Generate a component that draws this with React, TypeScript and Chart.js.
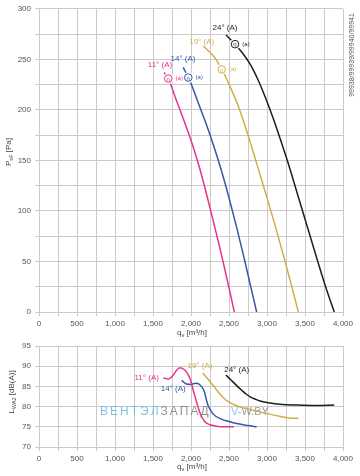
import React, { useEffect, useRef } from 'react';
import { Chart, registerables } from 'chart.js';
Chart.register(...registerables);

// ---------- data ----------
const seriesNames = ['11° (A)', '14° (A)', '19° (A)', '24° (A)'];
const seriesColors = ['#e5338c', '#3557a8', '#d2ad4b', '#1e1e1e'];

// pressure curves (q_v m³/h, p_sF Pa)
const q11p = [1645, 1701, 1800, 1900, 2000, 2100, 2200, 2300, 2400, 2500, 2570];
const p11 = [237, 231, 211, 191, 170, 146, 118, 88, 57, 24, 0];
const q14p = [1898, 1964, 2000, 2100, 2200, 2300, 2400, 2500, 2600, 2700, 2780, 2864];
const p14 = [242, 232, 226, 206, 186, 164, 140, 113, 84, 53, 27, 0];
const q19p = [2162, 2220, 2320, 2420, 2520, 2620, 2720, 2820, 2920, 3020, 3120, 3220, 3320, 3412];
const p19 = [263, 259, 251, 238, 222, 204, 182, 158, 133, 108, 82, 55, 27, 0];
const q24p = [2460, 2579, 2680, 2780, 2880, 2980, 3080, 3180, 3280, 3380, 3480, 3580, 3680, 3780, 3885];
const p24 = [274, 265, 256, 245, 230, 212, 192, 170, 147, 122, 97, 72, 47, 23, 0];

// operating points (eta markers)
const etaQ = [1701, 1964, 2404, 2579];
const etaP = [231, 232, 240, 265];

// sound curves (q_v m³/h, L dB(A))
const q11s = [1636, 1701, 1767, 1810, 1855, 1921, 1960, 1990, 2030, 2075, 2118, 2180, 2250, 2350, 2450, 2566];
const l11 = [87.1, 86.8, 87.8, 89.0, 89.6, 89.0, 88.0, 86.8, 84.0, 81.0, 78.5, 76.3, 75.5, 75.1, 75.0, 75.0];
const q14s = [1877, 1940, 2000, 2060, 2110, 2170, 2220, 2290, 2400, 2500, 2600, 2750, 2864];
const l14 = [86.5, 85.6, 85.5, 85.8, 85.5, 84.0, 80.5, 78.2, 76.9, 76.3, 75.8, 75.3, 75.0];
const q19s = [2154, 2220, 2293, 2360, 2425, 2500, 2601, 2750, 2951, 3171, 3300, 3412];
const l19 = [88.3, 86.9, 85.2, 83.6, 82.2, 81.1, 80.2, 79.4, 78.5, 77.6, 77.2, 77.1];
const q24s = [2460, 2530, 2601, 2670, 2733, 2790, 2850, 2908, 3040, 3171, 3400, 3650, 3885];
const l24 = [87.8, 86.5, 85.2, 84.0, 83.0, 82.3, 81.8, 81.4, 80.9, 80.6, 80.4, 80.3, 80.4];

// label anchors
const topLabelQ = [1592, 1895, 2141, 2447];
const topLabelP = [244.8, 250.7, 267.8, 281.3];
const botLabelQ = [1417, 1767, 2118, 2601];
const botLabelL = [87.1, 84.5, 90.1, 89.2];

// ticks
const xTickValues = [0, 500, 1000, 1500, 2000, 2500, 3000, 3500, 4000];
const xTickLabels = ['0', '500', '1,000', '1,500', '2,000', '2,500', '3,000', '3,500', '4,000'];
const pTickValues = [0, 50, 100, 150, 200, 250, 300];
const pTickLabels = ['0', '50', '100', '150', '200', '250', '300'];
const lTickValues = [70, 75, 80, 85, 90, 95];
const lTickLabels = ['70', '75', '80', '85', '90', '95'];

const FONT = "'Liberation Sans', Arial, sans-serif";
const GRID = '#cacaca';
const TICK = '#555555';

type Part = { t: string; sub?: boolean };

function drawRich(ctx: CanvasRenderingContext2D, x: number, y: number, parts: Part[], size: number, color: string, rotate: boolean) {
  ctx.save();
  ctx.translate(x, y);
  if (rotate) ctx.rotate(-Math.PI / 2);
  ctx.fillStyle = color;
  ctx.textBaseline = 'middle';
  ctx.textAlign = 'left';
  let total = 0;
  for (const p of parts) {
    ctx.font = `${p.sub ? size * 0.7 : size}px ${FONT}`;
    total += ctx.measureText(p.t).width;
  }
  let cx = -total / 2;
  for (const p of parts) {
    ctx.font = `${p.sub ? size * 0.7 : size}px ${FONT}`;
    ctx.fillText(p.t, cx, p.sub ? size * 0.3 : 0);
    cx += ctx.measureText(p.t).width;
  }
  ctx.restore();
}

function xCallback(v: any) {
  const i = xTickValues.indexOf(Number(v));
  return i >= 0 ? xTickLabels[i] : '';
}

function pts(q: number[], v: number[]) {
  return q.map((x, i) => ({ x, y: v[i] }));
}

function xScale(height: number) {
  return {
    type: 'linear',
    min: 0,
    max: 4000,
    ticks: { stepSize: 250, autoSkip: false, maxRotation: 0, callback: xCallback, font: { size: 8, family: FONT }, color: TICK, padding: 3 },
    grid: { color: GRID, tickLength: 4, lineWidth: 1 },
    border: { color: GRID },
    afterFit: (s: any) => { s.height = height; },
  };
}

export default function App() {
  const topRef = useRef<HTMLCanvasElement>(null);
  const botRef = useRef<HTMLCanvasElement>(null);

  useEffect(() => {
    const topDatasets = [
      pts(q11p, p11), pts(q14p, p14), pts(q19p, p19), pts(q24p, p24),
    ].map((d, i) => ({
      data: d, borderColor: seriesColors[i], borderWidth: 1.5, pointRadius: 0, fill: false, cubicInterpolationMode: 'monotone' as const,
    }));

    const topPlugin = {
      id: 'topAnno',
      afterDatasetsDraw(chart: any) {
        const { ctx, scales } = chart;
        const xs = scales.x, ys = scales.y;
        ctx.save();
        for (let i = 0; i < seriesNames.length; i++) {
          ctx.font = `8px ${FONT}`;
          ctx.fillStyle = seriesColors[i];
          ctx.textAlign = 'center';
          ctx.textBaseline = 'middle';
          ctx.fillText(seriesNames[i], xs.getPixelForValue(topLabelQ[i]), ys.getPixelForValue(topLabelP[i]));
          const mx = xs.getPixelForValue(etaQ[i]);
          const my = ys.getPixelForValue(etaP[i]);
          ctx.beginPath();
          ctx.arc(mx, my, 5.5, 0, Math.PI * 2);
          ctx.fillStyle = '#ffffff';
          ctx.fill();
          ctx.beginPath();
          ctx.arc(mx, my, 3.8, 0, Math.PI * 2);
          ctx.strokeStyle = seriesColors[i];
          ctx.lineWidth = 1;
          ctx.stroke();
          ctx.fillStyle = seriesColors[i];
          ctx.font = `6px ${FONT}`;
          ctx.fillText('η', mx, my + 0.5);
          ctx.fillText('(a)', mx + 11, my);
        }
        ctx.restore();
        drawRich(ctx, 9, 152, [{ t: 'P' }, { t: 'sF', sub: true }, { t: ' [Pa]' }], 8, '#444', true);
        drawRich(ctx, 192, 333, [{ t: 'q' }, { t: 'v', sub: true }, { t: ' [m³/h]' }], 8, '#444', false);
        drawRich(ctx, 352, 55, [{ t: '99938/99939/99940/99941' }], 7, '#555', true);
      },
    };

    const topChart = new Chart(topRef.current as HTMLCanvasElement, {
      type: 'line',
      data: { datasets: topDatasets as any },
      options: {
        responsive: false,
        animation: false,
        layout: { padding: { left: 0, right: 17, top: 8, bottom: 0 } },
        plugins: { legend: { display: false }, tooltip: { enabled: false } },
        scales: {
          x: xScale(28) as any,
          y: {
            type: 'linear', min: 0, max: 300,
            ticks: { stepSize: 25, autoSkip: false, callback: (v: any) => { const i = pTickValues.indexOf(Number(v)); return i >= 0 ? pTickLabels[i] : ''; }, font: { size: 8, family: FONT }, color: TICK, padding: 4 },
            grid: { color: GRID, tickLength: 4 },
            border: { color: GRID },
            afterFit: (s: any) => { s.width = 39; },
          } as any,
        },
      },
      plugins: [topPlugin],
    });

    const botDatasets = [
      pts(q11s, l11), pts(q14s, l14), pts(q19s, l19), pts(q24s, l24),
    ].map((d, i) => ({
      data: d, borderColor: seriesColors[i], borderWidth: 1.5, pointRadius: 0, fill: false, cubicInterpolationMode: 'monotone' as const,
    }));

    const botPlugin = {
      id: 'botAnno',
      beforeDatasetsDraw(chart: any) {
        const { ctx } = chart;
        ctx.save();
        ctx.globalAlpha = 0.85;
        ctx.font = `12px ${FONT}`;
        ctx.textBaseline = 'middle';
        ctx.textAlign = 'left';
        const word = 'ВЕНТЭЛЗАПАД';
        let x = 100;
        for (let i = 0; i < word.length; i++) {
          ctx.fillStyle = i < 6 ? '#6fb6e6' : '#7f7f7f';
          ctx.fillText(word[i], x, 76);
          x += ctx.measureText(word[i]).width + 2;
        }
        ctx.font = `11px ${FONT}`;
        ctx.fillStyle = '#6fb6e6';
        ctx.fillText('V-', 231, 76);
        const w = ctx.measureText('V-').width;
        ctx.fillStyle = '#8a8a8a';
        ctx.fillText('W.BY', 231 + w, 76);
        ctx.restore();
      },
      afterDatasetsDraw(chart: any) {
        const { ctx, scales } = chart;
        const xs = scales.x, ys = scales.y;
        ctx.save();
        for (let i = 0; i < seriesNames.length; i++) {
          ctx.font = `8px ${FONT}`;
          ctx.fillStyle = seriesColors[i];
          ctx.textAlign = 'center';
          ctx.textBaseline = 'middle';
          ctx.fillText(seriesNames[i], xs.getPixelForValue(botLabelQ[i]), ys.getPixelForValue(botLabelL[i]));
        }
        ctx.restore();
        drawRich(ctx, 12, 56, [{ t: 'L' }, { t: 'WA2', sub: true }, { t: ' [dB(A)]' }], 8, '#444', true);
        drawRich(ctx, 192, 131, [{ t: 'q' }, { t: 'v', sub: true }, { t: ' [m³/h]' }], 8, '#444', false);
      },
    };

    const botChart = new Chart(botRef.current as HTMLCanvasElement, {
      type: 'line',
      data: { datasets: botDatasets as any },
      options: {
        responsive: false,
        animation: false,
        layout: { padding: { left: 0, right: 17, top: 10, bottom: 0 } },
        plugins: { legend: { display: false }, tooltip: { enabled: false } },
        scales: {
          x: xScale(29) as any,
          y: {
            type: 'linear', min: 70, max: 95,
            ticks: { stepSize: 5, autoSkip: false, callback: (v: any) => { const i = lTickValues.indexOf(Number(v)); return i >= 0 ? lTickLabels[i] : ''; }, font: { size: 8, family: FONT }, color: TICK, padding: 4 },
            grid: { color: GRID, tickLength: 4 },
            border: { color: GRID },
            afterFit: (s: any) => { s.width = 39; },
          } as any,
        },
      },
      plugins: [botPlugin],
    });

    return () => {
      topChart.destroy();
      botChart.destroy();
    };
  }, []);

  return (
    <div style={{ position: 'fixed', left: 0, top: 0, width: 360, height: 476, background: '#fff' }}>
      <canvas ref={topRef} width={360} height={340} style={{ position: 'absolute', left: 0, top: 0, width: 360, height: 340 }} />
      <canvas ref={botRef} width={360} height={140} style={{ position: 'absolute', left: 0, top: 336, width: 360, height: 140 }} />
    </div>
  );
}
